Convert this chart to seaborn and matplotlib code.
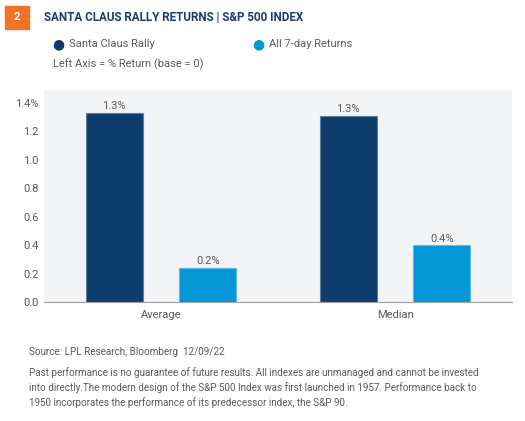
import pandas as pd
import seaborn as sns
import matplotlib.pyplot as plt
from matplotlib.patches import Rectangle

# Data
categories = ['Average', 'Median']
series_names = ['Santa Claus Rally', 'All 7-day Returns']
santa_values = [1.33, 1.31]
all7_values = [0.24, 0.40]
value_labels = [['1.3%', '1.3%'], ['0.2%', '0.4%']]
ytick_values = [0.0, 0.2, 0.4, 0.6, 0.8, 1.0, 1.2, 1.4]
ytick_labels = ['0.0', '0.2', '0.4', '0.6', '0.8', '1.0', '1.2', '1.4%']

navy = '#0d3c6b'
blue = '#0597d5'
grey_txt = '#5a5a5a'

df = pd.DataFrame({
    'category': categories * 2,
    'series': [series_names[0]] * 2 + [series_names[1]] * 2,
    'value': santa_values + all7_values,
})

sns.set_theme(style='white')
plt.rcParams['font.family'] = ['Roboto', 'DejaVu Sans']

fig = plt.figure(figsize=(5.25, 4.21), dpi=100)
ax = fig.add_axes([44 / 525, 1 - 302 / 421, 468 / 525, 212 / 421])
ax.set_facecolor('#f2f4f6')

sns.barplot(data=df, x='category', y='value', hue='series', order=categories,
            hue_order=series_names, palette=[navy, blue], width=0.8, gap=0.39,
            saturation=1, ax=ax, legend=False)

edge_cols = ['#5f7fa0', '#5cbbe6']
for i, cont in enumerate(ax.containers):
    for bar in cont:
        bar.set_edgecolor(edge_cols[i])
        bar.set_linewidth(0.8)
    ax.bar_label(cont, labels=value_labels[i], padding=1, fontsize=8, color=grey_txt)

ax.set_ylim(0, 1.49)
ax.set_xlim(-0.5, 1.5)
ax.set_yticks(ytick_values)
ax.set_yticklabels(ytick_labels)
ax.tick_params(axis='y', length=0, pad=4, labelsize=8, labelcolor=grey_txt)
ax.tick_params(axis='x', length=0, pad=6, labelsize=8, labelcolor=grey_txt)
ax.set_xlabel('')
ax.set_ylabel('')
for s in ['top', 'right', 'left']:
    ax.spines[s].set_visible(False)
ax.spines['bottom'].set_color('#a0a0a0')
ax.spines['bottom'].set_linewidth(0.8)

# Header
fig.patches.append(Rectangle((5 / 525, 1 - 29 / 421), 24 / 525, 23 / 421,
                             transform=fig.transFigure, color='#f07427'))
fig.text(17 / 525, 1 - 17.5 / 421, '2', color='white', fontsize=8,
         fontweight='bold', ha='center', va='center')
fig.text(44 / 525, 1 - 17.5 / 421, 'SANTA CLAUS RALLY RETURNS | S&P 500 INDEX',
         color='#1b3d6e', fontsize=8.4, fontweight='bold', ha='left', va='center')

# Legend
for x, col, name in [(58, navy, series_names[0]), (258, blue, series_names[1])]:
    fig.text(x / 525, 1 - 44 / 421, '\u25CF', color=col, fontsize=10,
             ha='center', va='center', family=['DejaVu Sans'])
    fig.text((x + 11) / 525, 1 - 44 / 421, name, color=grey_txt, fontsize=8,
             ha='left', va='center')
fig.text(53 / 525, 1 - 64 / 421, 'Left Axis = % Return (base = 0)', color=grey_txt,
         fontsize=8, ha='left', va='center')

# Footer
fig.text(29 / 525, 1 - 352 / 421, 'Source: LPL Research, Bloomberg  12/09/22',
         color=grey_txt, fontsize=7.1, ha='left', va='center')
footnote = ('Past performance is no guarantee of future results. All indexes are unmanaged and cannot be invested\n'
            'into directly.The modern design of the S&P 500 Index was first launched in 1957. Performance back to\n'
            '1950 incorporates the performance of its predecessor index, the S&P 90.')
fig.text(29 / 525, 1 - 367 / 421, footnote, color=grey_txt, fontsize=7.1,
         ha='left', va='top', linespacing=1.45)

fig.savefig('out.png', dpi=100)
